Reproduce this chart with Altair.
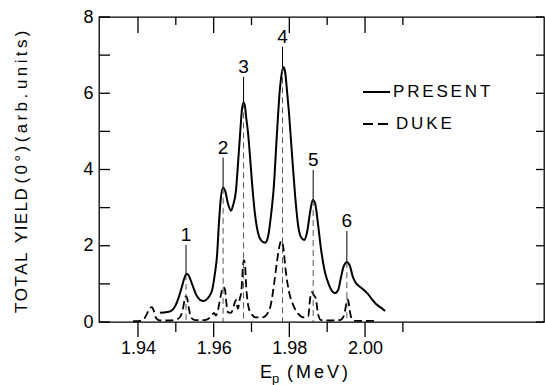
import altair as alt
import pandas as pd

# ---------------- data ----------------
present_e = [1.9458, 1.9477, 1.9490, 1.9500, 1.9508, 1.9516, 1.9522, 1.9528, 1.9533, 1.9537,
             1.9545, 1.9553, 1.9564, 1.9574, 1.9585, 1.9596, 1.9603, 1.9609, 1.9614, 1.9619,
             1.9625, 1.9630, 1.9638, 1.9646, 1.9651, 1.9659, 1.9664, 1.9670, 1.9675, 1.9679,
             1.9683, 1.9685, 1.9691, 1.9696, 1.9701, 1.9709, 1.9717, 1.9725, 1.9736, 1.9744,
             1.9751, 1.9759, 1.9767, 1.9775, 1.9781, 1.9785, 1.9789, 1.9794, 1.9799, 1.9807,
             1.9815, 1.9823, 1.9831, 1.9839, 1.9847, 1.9855, 1.9862, 1.9868, 1.9876, 1.9884,
             1.9894, 1.9905, 1.9913, 1.9921, 1.9929, 1.9936, 1.9944, 1.9952, 1.9960, 1.9968,
             1.9976, 1.9987, 1.9997, 2.0008, 2.0018, 2.0029, 2.0040, 2.0053]
present_y = [0.24, 0.26, 0.31, 0.45, 0.66, 0.92, 1.13, 1.26, 1.24, 1.15,
             0.94, 0.73, 0.58, 0.55, 0.63, 0.84, 1.25, 1.75, 2.60, 3.25,
             3.52, 3.45, 3.10, 2.92, 3.05, 3.45, 4.10, 4.95, 5.60, 5.76,
             5.65, 5.45, 4.95, 4.35, 3.70, 2.85, 2.35, 2.15, 2.08, 2.25,
             2.75, 3.55, 4.90, 6.10, 6.58, 6.68, 6.55, 6.05, 5.50, 4.40,
             3.35, 2.55, 2.22, 2.15, 2.36, 2.89, 3.20, 3.12, 2.55, 1.89,
             1.31, 0.97, 0.81, 0.76, 0.84, 1.15, 1.47, 1.57, 1.47, 1.18,
             1.02, 0.92, 0.84, 0.73, 0.60, 0.47, 0.39, 0.29]

duke_e = [1.9387, 1.9405, 1.9416, 1.9424, 1.9432, 1.9437, 1.9442, 1.9448, 1.9458, 1.9485,
          1.9500, 1.9511, 1.9519, 1.9524, 1.9527, 1.9530, 1.9535, 1.9540, 1.9551, 1.9577,
          1.9588, 1.9596, 1.9601, 1.9606, 1.9611, 1.9619, 1.9625, 1.9630, 1.9633, 1.9638,
          1.9646, 1.9654, 1.9659, 1.9664, 1.9670, 1.9672, 1.9675, 1.9677, 1.9680, 1.9683,
          1.9685, 1.9691, 1.9699, 1.9712, 1.9728, 1.9744, 1.9751, 1.9759, 1.9767, 1.9773,
          1.9779, 1.9784, 1.9791, 1.9799, 1.9810, 1.9823, 1.9839, 1.9850, 1.9855, 1.9860,
          1.9865, 1.9870, 1.9876, 1.9884, 1.9907, 1.9934, 1.9944, 1.9950, 1.9953, 1.9956,
          1.9960, 1.9966, 1.9976, 2.0026]
duke_y = [0.02, 0.03, 0.08, 0.22, 0.37, 0.39, 0.29, 0.10, 0.04, 0.04,
          0.06, 0.13, 0.35, 0.62, 0.68, 0.62, 0.33, 0.12, 0.05, 0.05,
          0.10, 0.18, 0.24, 0.17, 0.30, 0.70, 0.92, 0.85, 0.55, 0.25,
          0.24, 0.45, 0.58, 0.35, 0.65, 0.72, 1.05, 1.40, 1.62, 1.50,
          1.10, 0.45, 0.22, 0.12, 0.12, 0.25, 0.45, 0.95, 1.55, 1.95,
          2.13, 1.95, 1.30, 0.80, 0.45, 0.22, 0.12, 0.15, 0.62, 0.78,
          0.70, 0.62, 0.20, 0.05, 0.04, 0.05, 0.16, 0.45, 0.60, 0.55,
          0.28, 0.06, 0.03, 0.03]

peak_names = ["1", "2", "3", "4", "5", "6"]
peak_e = [1.9527, 1.9625, 1.9679, 1.9782, 1.9863, 1.9952]
peak_top = [1.26, 3.52, 5.76, 6.68, 3.20, 1.57]
label_y = [2.28, 4.57, 6.69, 7.48, 4.25, 2.65]

x_major = [1.94, 1.96, 1.98, 2.00]
x_minor = [1.95, 1.97, 1.99, 2.01]
y_major = [0, 2, 4, 6, 8]
y_all = [0, 1, 2, 3, 4, 5, 6, 7, 8]

x_domain = [1.9297, 2.0473]
y_domain = [0, 8]

legend_names = ["PRESENT", "DUKE"]

# ---------------- styling ----------------
W, H = 445, 305
FONT = "Liberation Sans"
HAIR = "\u200a"
SIXTH = "\u2006"
THIN = "\u2009"
NB = "\u00a0"


def spaced(s, sep):
    return sep.join(s)


xs = alt.Scale(domain=x_domain, nice=False, zero=False)
ys = alt.Scale(domain=y_domain, nice=False, zero=False)

x_axis = alt.Axis(values=x_major, format=".2f", ticks=False, domain=False, grid=False,
                  labelFont=FONT, labelFontSize=18, labelPadding=17, labelColor="black",
                  title=None)
y_axis = alt.Axis(values=y_major, ticks=False, domain=False, grid=False,
                  labelFont=FONT, labelFontSize=18, labelPadding=6, labelColor="black",
                  title=None)


def X(field):
    return alt.X(field, type="quantitative", scale=xs, axis=x_axis)


def Y(field):
    return alt.Y(field, type="quantitative", scale=ys, axis=y_axis)


present = pd.DataFrame({"E": present_e, "Y": present_y})
duke = pd.DataFrame({"E": duke_e, "Y": duke_y})
peaks = pd.DataFrame({"name": peak_names, "E": peak_e, "top": peak_top, "lab": label_y})

present_line = alt.Chart(present).mark_line(
    color="black", strokeWidth=2, interpolate="monotone"
).encode(x=X("E"), y=Y("Y"))

duke_line = alt.Chart(duke).mark_line(
    color="black", strokeWidth=1.8, strokeDash=[8, 4], interpolate="monotone"
).encode(x=X("E"), y=Y("Y"))

marker_solid = alt.Chart(peaks).transform_calculate(
    lt="datum.lab - 0.26"
).mark_rule(color="black", strokeWidth=1).encode(x=X("E"), y=Y("lt"), y2="top:Q")

marker_dash = alt.Chart(peaks).transform_calculate(
    zero="0"
).mark_rule(color="#444444", strokeWidth=0.9, strokeDash=[6, 4]).encode(
    x=X("E"), y=Y("top"), y2="zero:Q")

peak_labels = alt.Chart(peaks).mark_text(
    font=FONT, fontSize=19, baseline="middle", align="center", color="black"
).encode(x=X("E"), y=Y("lab"), text="name:N")


def xticks(vals, y0, y1):
    return alt.Chart(pd.DataFrame({"v": vals})).mark_rule(color="black", strokeWidth=1.3).encode(
        x=X("v"), y=alt.value(y0), y2=alt.value(y1))


def yticks(vals, x0, x1):
    return alt.Chart(pd.DataFrame({"v": vals})).mark_rule(color="black", strokeWidth=1.3).encode(
        y=Y("v"), x=alt.value(x0), x2=alt.value(x1))


ticks = [
    xticks(x_major, 0, 16), xticks(x_minor, 0, 8),
    xticks(x_major, H, H + 15), xticks(x_minor, H, H + 10),
    yticks(y_all, 0, 11), yticks(y_all, W - 8, W),
]

leg_solid = alt.Chart(pd.DataFrame({"k": [0]})).mark_rule(color="black", strokeWidth=2).encode(
    x=alt.value(264), x2=alt.value(291), y=alt.value(75))
leg_dash = alt.Chart(pd.DataFrame({"k": [0]})).mark_rule(
    color="black", strokeWidth=1.8, strokeDash=[10, 5]).encode(
    x=alt.value(264), x2=alt.value(292), y=alt.value(107))
leg_t1 = alt.Chart(pd.DataFrame({"t": [spaced(legend_names[0], SIXTH)]})).mark_text(
    font=FONT, fontSize=17, align="left", baseline="middle", color="black").encode(
    x=alt.value(294), y=alt.value(75), text="t:N")
leg_t2 = alt.Chart(pd.DataFrame({"t": [spaced(legend_names[1], SIXTH)]})).mark_text(
    font=FONT, fontSize=17, align="left", baseline="middle", color="black").encode(
    x=alt.value(297), y=alt.value(107), text="t:N")

ytitle_text = (spaced("TOTAL", HAIR) + NB + NB + spaced("YIELD", HAIR) + NB
               + spaced("(0°)", THIN) + THIN + spaced("(arb.", THIN) + NB + spaced("units)", THIN))
ytitle = alt.Chart(pd.DataFrame({"t": [ytitle_text]})).mark_text(
    font=FONT, fontSize=17, angle=270, align="left", baseline="middle", color="black").encode(
    x=alt.value(-77), y=alt.value(296), text="t:N")

xt_E = alt.Chart(pd.DataFrame({"t": ["E"]})).mark_text(
    font=FONT, fontSize=18, align="left", baseline="alphabetic", color="black").encode(
    x=alt.value(161), y=alt.value(361), text="t:N")
xt_p = alt.Chart(pd.DataFrame({"t": ["p"]})).mark_text(
    font=FONT, fontSize=13, align="left", baseline="alphabetic", color="black").encode(
    x=alt.value(173), y=alt.value(366), text="t:N")
xt_unit = alt.Chart(pd.DataFrame({"t": [spaced("(MeV)", SIXTH)]})).mark_text(
    font=FONT, fontSize=18, align="left", baseline="alphabetic", color="black").encode(
    x=alt.value(188), y=alt.value(361), text="t:N")

chart = alt.layer(
    present_line, duke_line, marker_dash, marker_solid, peak_labels, *ticks,
    leg_solid, leg_dash, leg_t1, leg_t2, ytitle, xt_E, xt_p, xt_unit
).properties(
    width=W, height=H,
    padding={"left": 99, "top": 17, "right": 1, "bottom": 63},
    autosize=alt.AutoSizeParams(type="none"),
    background="white",
).configure_view(stroke="black", strokeWidth=1.3)

chart.save("out.html", embed_options={"renderer": "svg", "actions": False})
